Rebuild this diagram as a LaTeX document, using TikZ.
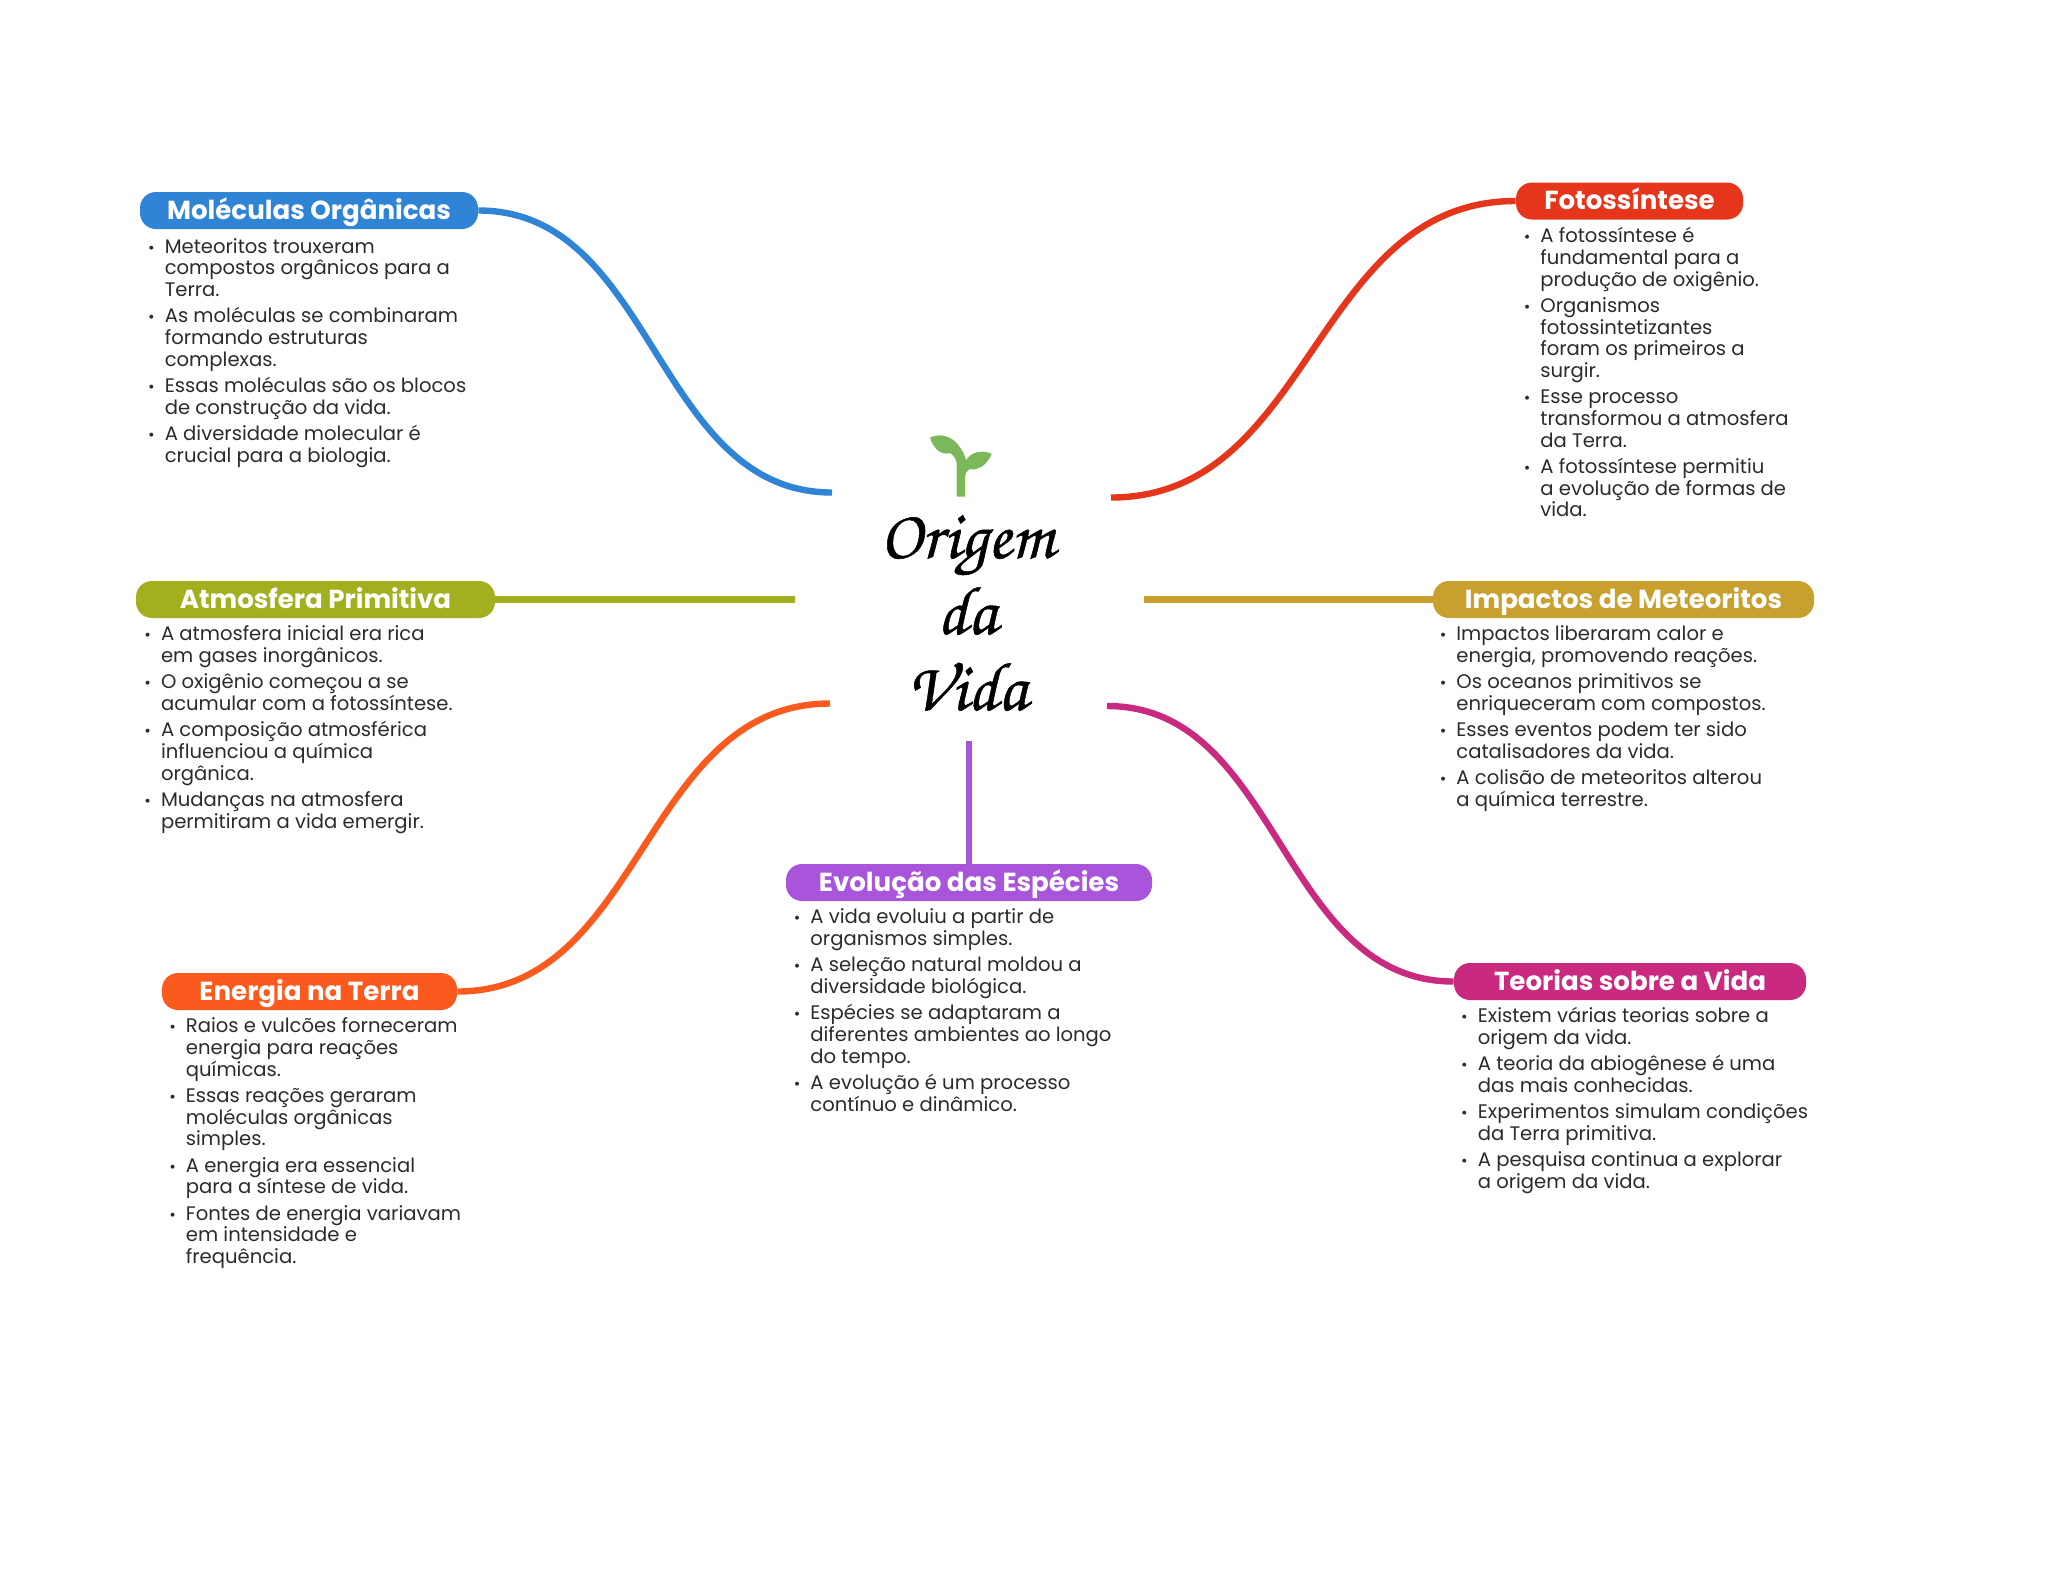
\documentclass[tikz,border=0pt]{standalone}
\usepackage{fontspec}
\setmainfont{Poppins}
\newfontfamily\titlefont[AutoFakeBold=0.7]{texgyrechorus-mediumitalic.otf}
\definecolor{cblue}{HTML}{2F84D6}
\definecolor{cred}{HTML}{E5361B}
\definecolor{colive}{HTML}{A2B01F}
\definecolor{cgold}{HTML}{C9A02E}
\definecolor{corange}{HTML}{FA5A1E}
\definecolor{cpurple}{HTML}{A855DC}
\definecolor{cmag}{HTML}{C9297F}
\definecolor{csprout}{HTML}{7AB85A}
\definecolor{ctext}{HTML}{2B2B2B}
\normallineskiplimit=-100pt
\lineskiplimit=-100pt
\newcommand{\bul}{\rule{0pt}{9pt}\llap{{\fontsize{8}{8}\selectfont •}\hspace{5pt}}}
\newcommand{\gap}{\\[2.3pt]}
\tikzset{
  pill/.style={fill=#1,text=white,rounded corners=8pt,inner sep=0pt,minimum height=18.5pt,
     text height=10.8pt,text depth=2pt,
     font=\fontsize{13.05}{13.05}\selectfont\bfseries},
  bodytext/.style={anchor=north west,inner sep=0pt,align=left,text=ctext,
     font=\fontsize{9.8}{10.85}\selectfont},
  link/.style={draw=#1,line width=3.2pt},
}
\begin{document}
\begin{tikzpicture}[x=0.5pt,y=-0.5pt]
\useasboundingbox (0,0) rectangle (2048,1569);
% free ends
\coordinate (e1) at (832,492.5);
\coordinate (e2) at (1111,497.5);
\coordinate (e3) at (795,599.5);
\coordinate (e4) at (1144,599.5);
\coordinate (e5) at (830,703.5);
\coordinate (e6) at (969,741);
\coordinate (e7) at (1107,706);
% pills
\node[pill=cblue,minimum width=169pt] (p1) at (309,210.5) {Moléculas Orgânicas};
\node[pill=cred,minimum width=113.5pt] (p2) at (1629.5,201) {Fotossíntese};
\node[pill=colive,minimum width=179.5pt] (p3) at (315.5,599.5) {Atmosfera Primitiva};
\node[pill=cgold,minimum width=190.5pt] (p4) at (1623.5,599.5) {Impactos de Meteoritos};
\node[pill=corange,minimum width=147.5pt] (p5) at (309.5,991.5) {Energia na Terra};
\node[pill=cpurple,minimum width=183pt] (p6) at (969,882.5) {Evolução das Espécies};
\node[pill=cmag,minimum width=176pt] (p7) at (1630,981.5) {Teorias sobre a Vida};
% connectors
\draw[link=cblue] (p1.east) .. controls (655,210.5) and (655,492.5) .. (e1);
\draw[link=cred] (p2.west) .. controls (1313,201) and (1313,497.5) .. (e2);
\draw[link=colive] (p3.east) -- (e3);
\draw[link=cgold] (p4.west) -- (e4);
\draw[link=corange] (p5.east) .. controls (643,991.5) and (643,703.5) .. (e5);
\draw[link=cpurple] (p6.north) -- (e6);
\draw[link=cmag] (p7.west) .. controls (1280,981.5) and (1280,706) .. (e7);
% body texts
\node[bodytext] (t1) at (164.4,234.7) {\bul Meteoritos trouxeram\\compostos orgânicos para a\\Terra.\gap
\bul As moléculas se combinaram\\formando estruturas\\complexas.\gap
\bul Essas moléculas são os blocos\\de construção da vida.\gap
\bul A diversidade molecular é\\crucial para a biologia.};
\node[bodytext] (t2) at (1540,224.2) {\bul A fotossíntese é\\fundamental para a\\produção de oxigênio.\gap
\bul Organismos\\fotossintetizantes\\foram os primeiros a\\surgir.\gap
\bul Esse processo\\transformou a atmosfera\\da Terra.\gap
\bul A fotossíntese permitiu\\a evolução de formas de\\vida.};
\node[bodytext] (t3) at (160.6,622.4) {\bul A atmosfera inicial era rica\\em gases inorgânicos.\gap
\bul O oxigênio começou a se\\acumular com a fotossíntese.\gap
\bul A composição atmosférica\\influenciou a química\\orgânica.\gap
\bul Mudanças na atmosfera\\permitiram a vida emergir.};
\node[bodytext] (t4) at (1456,622.4) {\bul Impactos liberaram calor e\\energia, promovendo reações.\gap
\bul Os oceanos primitivos se\\enriqueceram com compostos.\gap
\bul Esses eventos podem ter sido\\catalisadores da vida.\gap
\bul A colisão de meteoritos alterou\\a química terrestre.};
\node[bodytext] (t5) at (185.5,1014.4) {\bul Raios e vulcões forneceram\\energia para reações\\químicas.\gap
\bul Essas reações geraram\\moléculas orgânicas\\simples.\gap
\bul A energia era essencial\\para a síntese de vida.\gap
\bul Fontes de energia variavam\\em intensidade e\\frequência.};
\node[bodytext] (t6) at (810,905.4) {\bul A vida evoluiu a partir de\\organismos simples.\gap
\bul A seleção natural moldou a\\diversidade biológica.\gap
\bul Espécies se adaptaram a\\diferentes ambientes ao longo\\do tempo.\gap
\bul A evolução é um processo\\contínuo e dinâmico.};
\node[bodytext] (t7) at (1477.4,1004.4) {\bul Existem várias teorias sobre a\\origem da vida.\gap
\bul A teoria da abiogênese é uma\\das mais conhecidas.\gap
\bul Experimentos simulam condições\\da Terra primitiva.\gap
\bul A pesquisa continua a explorar\\a origem da vida.};
% title
\node[inner sep=0pt,anchor=base,font=\fontsize{34.5}{38}\selectfont\titlefont\bfseries,align=center] (title) at (967,710) {Origem\\da\\Vida};
% sprout
\begin{scope}[shift={(915,425)},x=0.1667pt,y=-0.1667pt]
\fill[csprout] (125,215) -- (125,118) .. controls (125,105) and (118,92) .. (105,84)
 .. controls (80,92) and (55,72) .. (45,38)
 .. controls (72,24) and (108,32) .. (128,58)
 .. controls (144,78) and (150,92) .. (153,106)
 .. controls (165,84) and (195,72) .. (230,86)
 .. controls (218,118) and (190,138) .. (165,132)
 .. controls (155,137) and (150,146) .. (150,158) -- (150,215) -- cycle;
\end{scope}
\end{tikzpicture}
\end{document}
